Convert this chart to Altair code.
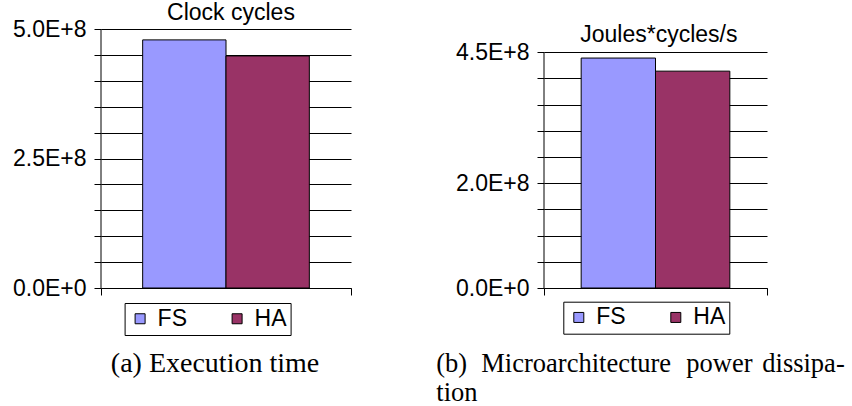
import altair as alt
import pandas as pd

# ---- data ----
SERIES = ["FS", "HA"]
CLOCK_CYCLES = [4.79e8, 4.48e8]
JOULES_CYCLES = [4.39e8, 4.14e8]
PANEL_TITLES = ["Clock cycles", "Joules*cycles/s"]
CAPTION_A = "(a) Execution time"
CAPTION_B_LINE1 = ["(b)", "Microarchitecture", "power", "dissipa-"]
CAPTION_B_LINE2 = "tion"
TICKS_A = [0, 5e7, 1e8, 1.5e8, 2e8, 2.5e8, 3e8, 3.5e8, 4e8, 4.5e8, 5e8]
LABELS_A = [0, 2.5e8, 5e8]
TICKS_B = [0, 5e7, 1e8, 1.5e8, 2e8, 2.5e8, 3e8, 3.5e8, 4e8, 4.5e8]
LABELS_B = [0, 2e8, 4.5e8]

COLORS = ["#9999FF", "#993366"]
SANS = "Liberation Sans"
SERIF = "Liberation Serif"
SANS_SIZE = 23
SERIF_SIZE = 26.5
H = 259


def label_expr(labels):
    arr = ",".join(str(int(v)) for v in labels)
    return (f"indexof([{arr}], datum.value) >= 0 ? "
            "(datum.value == 0 ? '0.0E+0' : format(datum.value / 1e8, '.1f') + 'E+8') : ''")


def y_axis(ticks, labels):
    return alt.Axis(values=ticks, grid=True, gridColor="black", gridOpacity=1,
                    gridWidth=1, domain=False, ticks=True, tickSize=7,
                    tickColor="black", labelFont=SANS, labelFontSize=SANS_SIZE,
                    labelColor="black", labelPadding=8, title=None,
                    labelExpr=label_expr(labels))


def panel(values, title, ticks, labels, ymax, width, legend_xy, title_xy, pad_spaces):
    df = pd.DataFrame({"panel": [title] * len(SERIES), "series": SERIES, "value": values})
    yscale = alt.Scale(domain=[0, ymax], nice=False, zero=True)
    tail = "\u00a0" * pad_spaces
    bars = alt.Chart(df).mark_bar(stroke="black", strokeWidth=1).encode(
        x=alt.X("panel:N", title=None,
                scale=alt.Scale(paddingInner=0, paddingOuter=0),
                axis=alt.Axis(labels=False, tickBand="extent", ticks=True, tickSize=7,
                              tickColor="black", domain=True, domainColor="black",
                              grid=False, title=None)),
        xOffset=alt.XOffset("series:N", sort=SERIES,
                            scale=alt.Scale(paddingInner=0, paddingOuter=0.5)),
        y=alt.Y("value:Q", scale=yscale, title=None, axis=y_axis(ticks, labels)),
        color=alt.Color("series:N", sort=SERIES,
                        scale=alt.Scale(domain=SERIES, range=COLORS),
                        legend=alt.Legend(orient="none", legendX=legend_xy[0],
                                          legendY=legend_xy[1], direction="horizontal",
                                          title=None, strokeColor="black",
                                          fillColor="white", padding=4,
                                          symbolType="square", symbolSize=100,
                                          symbolStrokeColor="black", symbolStrokeWidth=1,
                                          labelFont=SANS, labelFontSize=SANS_SIZE,
                                          labelColor="black", labelOffset=6,
                                          columnPadding=38,
                                          labelExpr=f"datum.label == 'HA' ? datum.label + '{tail}' : datum.label")),
    )
    dom = alt.Chart(pd.DataFrame({"value": [0], "hi": [ticks[-1]]})).mark_rule(
        color="black", strokeWidth=1).encode(
        x=alt.value(0),
        y=alt.Y("value:Q", scale=yscale, title=None, axis=y_axis(ticks, labels)),
        y2="hi:Q",
    )
    ttl = alt.Chart(pd.DataFrame({"t": [title]})).mark_text(
        font=SANS, fontSize=SANS_SIZE, color="black", align="center", baseline="alphabetic"
    ).encode(text="t:N", x=alt.value(title_xy[0]), y=alt.value(title_xy[1]))
    return alt.layer(bars, dom, ttl).properties(width=width, height=H)


def caption_text(txt, x, y, align="left", size=SERIF_SIZE):
    return alt.Chart(pd.DataFrame({"t": [txt]})).mark_text(
        font=SERIF, fontSize=size, color="black", align=align, baseline="alphabetic"
    ).encode(text="t:N", x=alt.value(x), y=alt.value(y))


left = panel(CLOCK_CYCLES, PANEL_TITLES[0], TICKS_A, LABELS_A,
             5e8, 250, (23.6, 274), (130, -9.3), 5)
left = alt.layer(left, caption_text(CAPTION_A, 114, 343.3, "center", 28))

ymax_b = 4.5e8 * H / 235.7
right = panel(JOULES_CYCLES, PANEL_TITLES[1], TICKS_B, LABELS_B,
              ymax_b, 223, (19.3, 272.7), (114.8, 12.7), 6)
word_x = [(-107.7, "left"), (-62.7, "left"), (142.3, "left"), (300.7, "right")]
cap_layers = [caption_text(w, x, 343, a) for w, (x, a) in zip(CAPTION_B_LINE1, word_x)]
cap_layers.append(caption_text(CAPTION_B_LINE2, -107.7, 372))
right = alt.layer(right, *cap_layers)

chart = alt.hconcat(left, right, spacing=193, bounds="flush").resolve_scale(
    color="independent", x="independent", y="independent", xOffset="independent"
).resolve_legend(color="independent").configure_view(stroke=None).properties(
    padding={"left": 12, "top": 1, "right": 0, "bottom": 0}
)

chart.save("out.html", embed_options={"renderer": "svg", "actions": False})
